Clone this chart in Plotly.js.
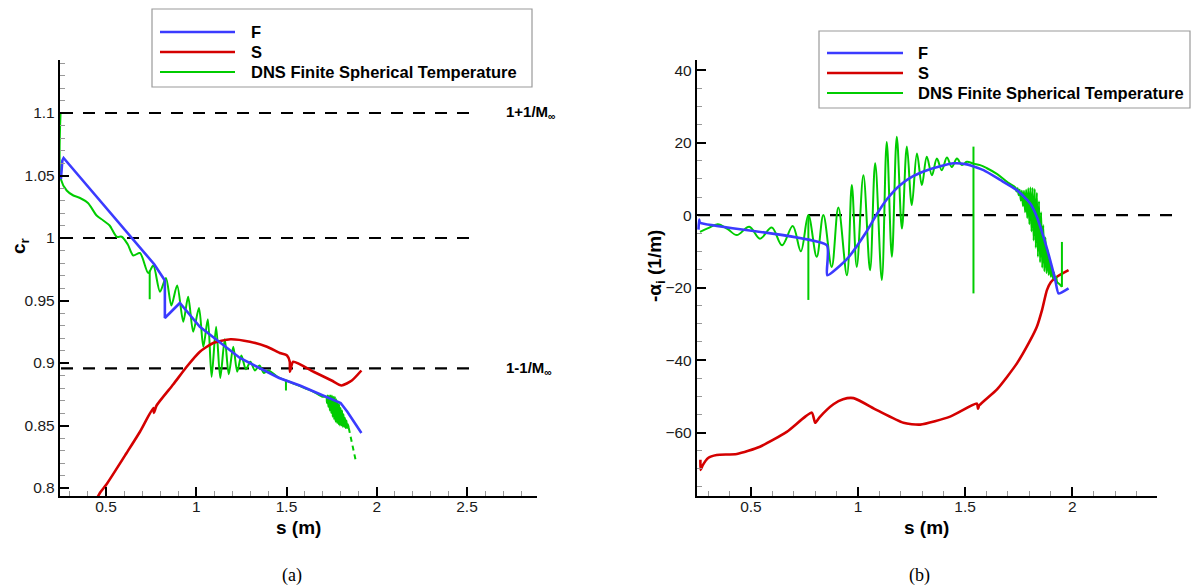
<!DOCTYPE html>
<html>
<head>
<meta charset="utf-8">
<script src="https://cdn.plot.ly/plotly-3.0.1.min.js"></script>
<style>
html,body{margin:0;padding:0;background:#fff;}
#chart{width:1191px;height:585px;}
</style>
</head>
<body>
<div id="chart"></div>
<script>
// ---------------- Panel (a): phase speed c_r ----------------
const aF_s  = [0.250, 0.258, 0.265, 0.767, 0.826, 0.826, 0.909, 1.020, 1.242, 1.459, 1.574, 1.737, 1.800, 1.837, 1.878, 1.915];
const aF_cr = [1.047, 1.062, 1.064, 0.979, 0.966, 0.936, 0.948, 0.929, 0.904, 0.888, 0.882, 0.872, 0.868, 0.861, 0.852, 0.844];

const aS_s  = [0.440, 0.466, 0.503, 0.614, 0.688, 0.762, 0.765, 0.780, 0.873, 0.947, 1.020, 1.094, 1.189, 1.297, 1.392, 1.463, 1.503, 1.518, 1.519, 1.537, 1.650, 1.750, 1.805, 1.862, 1.915];
const aS_cr = [0.789, 0.796, 0.803, 0.828, 0.845, 0.864, 0.860, 0.866, 0.883, 0.897, 0.909, 0.916, 0.919, 0.917, 0.913, 0.908, 0.906, 0.901, 0.893, 0.901, 0.893, 0.886, 0.882, 0.886, 0.894];

const aD_s  = [0.248, 0.250, 0.282, 0.319, 0.356, 0.400, 0.448, 0.485, 0.520, 0.559, 0.587, 0.620, 0.651, 0.688, 0.734, 0.762,
               0.799, 0.832, 0.862, 0.894, 0.928, 0.955, 0.983, 1.015, 1.039, 1.064, 1.085, 1.110, 1.133, 1.158, 1.180, 1.205, 1.227, 1.250, 1.275, 1.300, 1.325, 1.350, 1.375, 1.400, 1.450, 1.497, 1.550, 1.600, 1.650, 1.700,
               1.720, 1.724, 1.728, 1.732, 1.736, 1.740, 1.744, 1.748, 1.752, 1.756, 1.760, 1.764, 1.768, 1.772, 1.776, 1.780, 1.784, 1.788, 1.792, 1.796, 1.800, 1.804, 1.808, 1.812, 1.816, 1.820, 1.824, 1.828, 1.832, 1.836, 1.840, 1.845];
const aD_cr = [1.100, 1.047, 1.038, 1.034, 1.032, 1.028, 1.018, 1.014, 1.010, 1.001, 1.001, 0.995, 0.986, 0.988, 0.972, 0.978,
               0.957, 0.968, 0.946, 0.962, 0.933, 0.953, 0.925, 0.944, 0.913, 0.935, 0.889, 0.929, 0.888, 0.919, 0.891, 0.913, 0.893, 0.906, 0.895, 0.901, 0.894, 0.898, 0.892, 0.894, 0.889, 0.886, 0.883, 0.880, 0.877, 0.873,
               0.873, 0.868, 0.874, 0.865, 0.874, 0.862, 0.874, 0.860, 0.874, 0.857, 0.873, 0.855, 0.873, 0.853, 0.871, 0.852, 0.869, 0.851, 0.867, 0.850, 0.864, 0.850, 0.862, 0.849, 0.859, 0.849, 0.856, 0.848, 0.854, 0.848, 0.851, 0.848];
// isolated vertical spikes of the DNS signal
const aSpike_s   = [0.742, 1.497];
const aSpike_top = [0.974, 0.886];
const aSpike_bot = [0.951, 0.878];
const aDtail_s  = [1.845, 1.860, 1.875, 1.882];
const aDtail_cr = [0.848, 0.838, 0.827, 0.823];

const aRefLevels = [1.1, 1.0, 0.8957];
const aRefLabels = ['1+1/M<sub>∞</sub>', '', '1-1/M<sub>∞</sub>'];

// ---------------- Panel (b): growth rate -alpha_i ----------------
const bF_s = [0.255, 0.258, 0.262, 0.854, 0.856, 0.950, 1.040, 1.088, 1.134, 1.197, 1.259, 1.322, 1.384, 1.446, 1.508, 1.586, 1.664, 1.742, 1.804, 1.835, 1.866, 1.897, 1.921, 1.936, 1.983];
const bF_a = [-4.0, -1.2, -2.1, -8.3, -16.6, -12.0, -4.5, 0.3, 4.3, 8.3, 10.8, 12.4, 13.5, 14.3, 14.0, 12.4, 9.7, 6.9, 3.2, -0.5, -6.0, -12.4, -17.9, -21.6, -20.2];

const bS_s = [0.264, 0.265, 0.275, 0.300, 0.340, 0.434, 0.542, 0.667, 0.784, 0.800, 0.820, 0.885, 0.930, 0.979, 1.088, 1.212, 1.290, 1.430, 1.555, 1.560, 1.566, 1.650, 1.742, 1.800, 1.835, 1.860, 1.882, 1.900, 1.929, 1.983];
const bS_a = [-67.5, -70.3, -69.0, -67.0, -66.2, -65.9, -63.9, -59.8, -54.5, -57.3, -55.8, -52.2, -50.8, -50.5, -53.8, -57.3, -57.8, -55.6, -52.0, -53.4, -52.5, -48.0, -40.9, -35.0, -30.8, -26.0, -20.7, -18.5, -17.0, -15.2];

const bD_s = [0.262, 0.300, 0.345, 0.390, 0.434, 0.492, 0.542, 0.597, 0.645, 0.695, 0.733, 0.768,
              0.807, 0.838, 0.877, 0.908, 0.948, 0.971, 0.994, 1.025, 1.056, 1.080, 1.111, 1.134, 1.158, 1.181, 1.205, 1.228, 1.251, 1.275, 1.298, 1.321, 1.345, 1.368, 1.391, 1.415, 1.438, 1.462, 1.485, 1.508, 1.539, 1.570, 1.600, 1.650, 1.700,
              1.735, 1.740, 1.745, 1.750, 1.755, 1.760, 1.765, 1.770, 1.775, 1.780, 1.785, 1.790, 1.795, 1.800, 1.805, 1.810, 1.815, 1.820, 1.825, 1.830, 1.835, 1.840, 1.845, 1.850, 1.855, 1.860, 1.865, 1.870, 1.875, 1.880, 1.885, 1.890, 1.895, 1.900, 1.905, 1.910, 1.915, 1.920, 1.925, 1.930, 1.940, 1.952];
const bD_a = [-4.6, -3.6, -2.5, -3.8, -5.5, -3.2, -6.5, -3.4, -8.3, -3.0, -10.0, 0.0,
              -11.5, 0.0, -14.3, 2.1, -16.6, 8.3, -14.3, 11.0, -15.2, 14.3, -17.9, 20.2, -11.5, 21.6, -3.7, 18.9, 2.8, 17.0, 8.3, 16.1, 11.0, 15.6, 12.4, 15.9, 13.3, 15.6, 13.8, 14.7, 14.2, 13.8, 13.0, 11.3, 9.0,
              7.6, 6.5, 7.4, 5.5, 7.0, 4.0, 6.7, 2.5, 6.7, 0.8, 7.0, -0.8, 7.4, -2.5, 7.6, -4.5, 7.5, -7.0, 7.2, -9.0, 6.2, -11.5, 3.8, -13.0, 0.8, -14.5, -2.8, -15.5, -6.2, -16.0, -9.5, -16.5, -12.3, -17.0, -14.3, -17.5, -15.8, -18.0, -17.0, -18.5, -19.0, -19.8];
const bSpike_s   = [0.768, 1.539, 1.952];
const bSpike_top = [0.0, 18.9, -7.4];
const bSpike_bot = [-23.4, -21.6, -19.8];

const bRefLevels = [0];

const seriesNames = ['F', 'S', 'DNS Finite Spherical Temperature'];

// ---------------- styling ----------------
const BLUE = '#3b3bff', RED = '#d40000', GREEN = '#00cc00';
const W = 1191, H = 585;
const px = v => v / W;
const py = v => 1 - v / H;
const FONT = 'Liberation Sans, Arial, Helvetica, sans-serif';

function spikes(xs, tops, bots) {
  const x = [], y = [];
  xs.forEach((s, i) => { x.push(s, s, null); y.push(tops[i], bots[i], null); });
  return {x, y};
}
const aSp = spikes(aSpike_s, aSpike_top, aSpike_bot);
const bSp = spikes(bSpike_s, bSpike_top, bSpike_bot);

const data = [
  {x: aD_s, y: aD_cr, xaxis: 'x', yaxis: 'y', mode: 'lines', name: seriesNames[2], line: {color: GREEN, width: 2, shape: 'spline', smoothing: 0.8}},
  {x: aSp.x, y: aSp.y, xaxis: 'x', yaxis: 'y', mode: 'lines', name: seriesNames[2], line: {color: GREEN, width: 2}, connectgaps: false},
  {x: aDtail_s, y: aDtail_cr, xaxis: 'x', yaxis: 'y', mode: 'lines', name: seriesNames[2], line: {color: GREEN, width: 2, dash: '5px,4px'}},
  {x: aS_s, y: aS_cr, xaxis: 'x', yaxis: 'y', mode: 'lines', name: seriesNames[1], line: {color: RED, width: 2.6, shape: 'spline', smoothing: 0.6}},
  {x: aF_s, y: aF_cr, xaxis: 'x', yaxis: 'y', mode: 'lines', name: seriesNames[0], line: {color: BLUE, width: 2.6}},
  {x: bS_s, y: bS_a, xaxis: 'x2', yaxis: 'y2', mode: 'lines', name: seriesNames[1], line: {color: RED, width: 2.6, shape: 'spline', smoothing: 0.6}},
  {x: bD_s, y: bD_a, xaxis: 'x2', yaxis: 'y2', mode: 'lines', name: seriesNames[2], line: {color: GREEN, width: 2, shape: 'spline', smoothing: 1}},
  {x: bSp.x, y: bSp.y, xaxis: 'x2', yaxis: 'y2', mode: 'lines', name: seriesNames[2], line: {color: GREEN, width: 2}, connectgaps: false},
  {x: bF_s, y: bF_a, xaxis: 'x2', yaxis: 'y2', mode: 'lines', name: seriesNames[0], line: {color: BLUE, width: 2.6, shape: 'spline', smoothing: 0.5}}
];
data.forEach(t => { t.showlegend = false; t.hoverinfo = 'skip'; });

function axisBase(isX) {
  return {
    showline: true, linecolor: '#000', linewidth: 2.2, mirror: false,
    ticks: 'inside', ticklen: 9, tickwidth: 2, tickcolor: '#000',
    showgrid: false, zeroline: false, fixedrange: true,
    tickfont: {family: FONT, size: 15.5, color: '#1a1a1a'},
    ticklabelstandoff: isX ? -5 : 0
  };
}
const yDom = [1 - 496 / H, 1 - 60 / H];
const minorX = {dtick: 0.1, tick0: 0, ticks: 'inside', ticklen: 5, tickwidth: 1, tickcolor: '#999'};

const layout = {
  width: W, height: H,
  margin: {l: 0, r: 0, t: 0, b: 0},
  paper_bgcolor: '#fff', plot_bgcolor: '#fff',
  font: {family: FONT, color: '#000'},
  showlegend: false,
  xaxis: Object.assign(axisBase(true), {domain: [px(60), px(537)], range: [0.245, 2.888], anchor: 'y', tick0: 0, dtick: 0.5, minor: minorX}),
  yaxis: Object.assign(axisBase(false), {domain: yDom, range: [0.7936, 1.1424], anchor: 'x', tick0: 0, dtick: 0.05,
    minor: {dtick: 0.01, tick0: 0, ticks: 'inside', ticklen: 5, tickwidth: 1, tickcolor: '#999'}}),
  xaxis2: Object.assign(axisBase(true), {domain: [px(697), px(1157)], range: [0.248, 2.396], anchor: 'y2', tick0: 0, dtick: 0.5, minor: minorX}),
  yaxis2: Object.assign(axisBase(false), {domain: yDom, range: [-77.5, 42.8], anchor: 'x2', tick0: 0, dtick: 20,
    minor: {dtick: 5, tick0: 0, ticks: 'inside', ticklen: 5, tickwidth: 1, tickcolor: '#999'}}),
  shapes: [],
  annotations: []
};

// reference dashed levels
aRefLevels.forEach((lv, i) => {
  layout.shapes.push({type: 'line', xref: 'paper', yref: 'y', x0: px(61), x1: px(479), y0: lv, y1: lv,
    line: {color: '#000', width: 2.2, dash: '12px,10px'}, layer: 'below'});
  if (aRefLabels[i]) {
    layout.annotations.push({xref: 'paper', yref: 'y', x: px(504), y: lv, xanchor: 'left', yanchor: 'middle',
      text: '<b>' + aRefLabels[i] + '</b>', showarrow: false, font: {family: FONT, size: 15, color: '#000'}});
  }
});
bRefLevels.forEach(lv => {
  layout.shapes.push({type: 'line', xref: 'paper', yref: 'y2', x0: px(698), x1: px(1176), y0: lv, y1: lv,
    line: {color: '#000', width: 2.2, dash: '12px,10px'}, layer: 'below'});
});

// legends (drawn boxes)
function addLegend(x0, y0, x1, y1, lineX0, lineX1, textX, rowsY) {
  layout.shapes.push({type: 'rect', xref: 'paper', yref: 'paper', x0: px(x0), x1: px(x1), y0: py(y0), y1: py(y1),
    line: {color: '#9a9a9a', width: 1.2}, fillcolor: '#fff', layer: 'above'});
  const cols = [BLUE, RED, GREEN];
  const widths = [2.6, 2.6, 2];
  rowsY.forEach((ry, i) => {
    layout.shapes.push({type: 'line', xref: 'paper', yref: 'paper', x0: px(lineX0), x1: px(lineX1), y0: py(ry), y1: py(ry),
      line: {color: cols[i], width: widths[i]}, layer: 'above'});
    layout.annotations.push({xref: 'paper', yref: 'paper', x: px(textX), y: py(ry), xanchor: 'left', yanchor: 'middle',
      text: '<b>' + seriesNames[i] + '</b>', showarrow: false, font: {family: FONT, size: 16.5, color: '#000'}});
  });
}
addLegend(152, 9, 532, 87, 160, 235, 249, [32, 52, 72]);
addLegend(819, 31, 1190, 108, 827, 903, 916, [53, 73, 93]);

// axis titles and captions
const ann = (x, y, text, opts) => layout.annotations.push(Object.assign({xref: 'paper', yref: 'paper', x: px(x), y: py(y),
  xanchor: 'center', yanchor: 'middle', text: text, showarrow: false, font: {family: FONT, size: 19, color: '#000'}}, opts || {}));
ann(298, 527, '<b>s (m)</b>');
ann(926, 527, '<b>s (m)</b>');
ann(20, 246, '<b>c<sub>r</sub></b>', {textangle: -90});
ann(656, 266, '<b>-α<sub>i</sub> (1/m)</b>', {textangle: -90});
ann(292, 575, '(a)', {font: {family: 'Liberation Serif, Times New Roman, serif', size: 18, color: '#000'}});
ann(920, 575, '(b)', {font: {family: 'Liberation Serif, Times New Roman, serif', size: 18, color: '#000'}});

Plotly.newPlot('chart', data, layout, {displayModeBar: false, staticPlot: true});
</script>
</body>
</html>
